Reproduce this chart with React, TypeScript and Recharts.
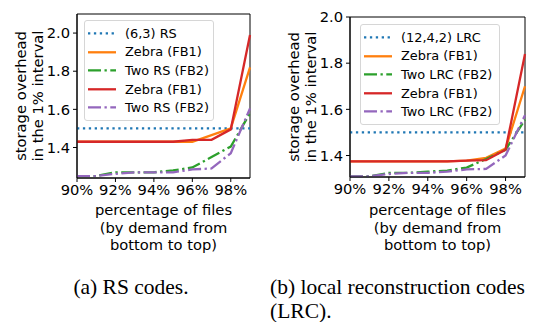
import React from 'react';
import { LineChart, Line, XAxis, YAxis, ReferenceArea } from 'recharts';

// x positions (percentage of files)
const pct = [90, 91, 92, 93, 94, 95, 96, 97, 98, 99];
const xTicks = [90, 92, 94, 96, 98];

// (a) RS codes
const rsBaseline = [1.5, 1.5, 1.5, 1.5, 1.5, 1.5, 1.5, 1.5, 1.5, 1.5];
const rsZebraA = [1.43, 1.43, 1.43, 1.43, 1.43, 1.43, 1.43, 1.465, 1.5, 1.82];
const rsTwoA = [1.25, 1.25, 1.27, 1.27, 1.27, 1.28, 1.295, 1.35, 1.405, 1.58];
const rsZebraB = [1.43, 1.43, 1.43, 1.43, 1.43, 1.43, 1.44, 1.44, 1.495, 1.99];
const rsTwoB = [1.25, 1.25, 1.262, 1.27, 1.27, 1.27, 1.285, 1.29, 1.37, 1.605];
const rsTicks = [1.4, 1.6, 1.8, 2.0];

// (b) LRC
const lrcBaseline = [1.5, 1.5, 1.5, 1.5, 1.5, 1.5, 1.5, 1.5, 1.5, 1.5];
const lrcZebraA = [1.375, 1.375, 1.375, 1.375, 1.375, 1.375, 1.378, 1.39, 1.43, 1.7];
const lrcTwoA = [1.31, 1.31, 1.325, 1.325, 1.33, 1.335, 1.348, 1.385, 1.425, 1.555];
const lrcZebraB = [1.375, 1.375, 1.375, 1.375, 1.375, 1.375, 1.378, 1.38, 1.425, 1.84];
const lrcTwoB = [1.31, 1.31, 1.32, 1.325, 1.325, 1.33, 1.34, 1.342, 1.4, 1.575];
const lrcTicks = [1.4, 1.6, 1.8, 2.0];

const rsLegend = ['(6,3) RS', 'Zebra (FB1)', 'Two RS (FB2)', 'Zebra (FB1)', 'Two RS (FB2)'];
const lrcLegend = ['(12,4,2) LRC', 'Zebra (FB1)', 'Two LRC (FB2)', 'Zebra (FB1)', 'Two LRC (FB2)'];

const FONT = '"DejaVu Sans", sans-serif';
const LW = 2.3;
const DOT = '2.3 3.6';
const DASHDOT = '13 3.5 2.3 3.5';

const styles = [
  { key: 'base', color: '#1f77b4', dash: DOT },
  { key: 'zebraA', color: '#ff7f0e', dash: undefined },
  { key: 'twoA', color: '#2ca02c', dash: DASHDOT },
  { key: 'zebraB', color: '#d62728', dash: undefined },
  { key: 'twoB', color: '#9467bd', dash: DASHDOT },
];

function buildRows(base: number[], za: number[], ta: number[], zb: number[], tb: number[]) {
  return pct.map((p, i) => ({
    pct: p,
    base: base[i],
    zebraA: za[i],
    twoA: ta[i],
    zebraB: zb[i],
    twoB: tb[i],
  }));
}

const rsRows = buildRows(rsBaseline, rsZebraA, rsTwoA, rsZebraB, rsTwoB);
const lrcRows = buildRows(lrcBaseline, lrcZebraA, lrcTwoA, lrcZebraB, lrcTwoB);

interface PanelProps {
  rows: ReturnType<typeof buildRows>;
  domain: [number, number];
  yTicks: number[];
  width: number;
  margin: { top: number; right: number; left: number; bottom: number };
  xHeight: number;
}

function Panel({ rows, domain, yTicks, width, margin, xHeight }: PanelProps) {
  const tick = { fontSize: 14.7, fill: '#000', fontFamily: FONT };
  return (
    <LineChart width={width} height={200} data={rows} margin={margin}>
      <XAxis
        dataKey="pct"
        type="number"
        domain={[90, 99]}
        ticks={xTicks}
        tickFormatter={(v: number) => `${v}%`}
        tick={tick}
        tickSize={4}
        tickMargin={3}
        height={xHeight}
        stroke="#000"
        interval={0}
      />
      <YAxis
        type="number"
        domain={domain}
        ticks={yTicks}
        tickFormatter={(v: number) => v.toFixed(1)}
        tick={tick}
        tickSize={4}
        tickMargin={3}
        width={77}
        stroke="#000"
        interval={0}
      />
      {styles.map((s) => (
        <Line
          key={s.key}
          type="linear"
          dataKey={s.key}
          stroke={s.color}
          strokeWidth={LW}
          strokeDasharray={s.dash}
          dot={false}
          activeDot={false}
          isAnimationActive={false}
        />
      ))}
      {/* full box frame like matplotlib spines */}
      <ReferenceArea x1={90} x2={99} y1={domain[0]} y2={domain[1]} fill="none" stroke="#000" strokeWidth={1} ifOverflow="visible" />
    </LineChart>
  );
}

function LegendBox({ labels, left, top, width, rowH }: { labels: string[]; left: number; top: number; width: number; rowH: number }) {
  return (
    <div
      style={{
        position: 'absolute',
        left,
        top,
        width,
        padding: '3px 0 3px 0',
        border: '1px solid #d6d6d6',
        borderRadius: 3,
        background: 'rgba(255,255,255,0.8)',
        fontFamily: FONT,
        fontSize: 12.9,
        color: '#000',
        boxSizing: 'border-box',
      }}
    >
      {labels.map((lab, i) => (
        <div key={i} style={{ height: rowH, display: 'flex', alignItems: 'center', whiteSpace: 'nowrap' }}>
          <svg width={40} height={rowH} style={{ flex: 'none' }}>
            <line
              x1={3}
              x2={31}
              y1={rowH / 2}
              y2={rowH / 2}
              stroke={styles[i].color}
              strokeWidth={LW}
              strokeDasharray={styles[i].dash}
            />
          </svg>
          <span>{lab}</span>
        </div>
      ))}
    </div>
  );
}

function AxisText({ dx }: { dx: number }) {
  const cx = dx === 0 ? 163.5 : 437.5;
  const yl = dx === 0 ? 96 : 97;
  return (
    <g fontFamily={FONT} fontSize={14.7} fill="#000">
      <text transform={`translate(${26 + dx},${yl}) rotate(-90)`} textAnchor="middle">
        storage overhead
      </text>
      <text transform={`translate(${43.3 + dx},${yl}) rotate(-90)`} textAnchor="middle">
        in the 1% interval
      </text>
      <text x={cx} y={215} textAnchor="middle">percentage of files</text>
      <text x={cx} y={232.5} textAnchor="middle">(by demand from</text>
      <text x={cx} y={249.5} textAnchor="middle">bottom to top)</text>
    </g>
  );
}

export default function App() {
  return (
    <div style={{ position: 'absolute', left: 0, top: 0, width: 547, height: 322, background: '#fff', overflow: 'hidden' }}>
      <div style={{ position: 'absolute', left: 0, top: 0 }}>
        <Panel rows={rsRows} domain={[1.24, 2.1]} yTicks={rsTicks} width={273} margin={{ top: 14, right: 23, left: 0, bottom: 0 }} xHeight={22} />
      </div>
      <div style={{ position: 'absolute', left: 273, top: 0 }}>
        <Panel rows={lrcRows} domain={[1.307, 2.0]} yTicks={lrcTicks} width={274} margin={{ top: 17, right: 22, left: 0, bottom: 0 }} xHeight={23} />
      </div>
      <LegendBox labels={rsLegend} left={84} top={20} width={130} rowH={18.6} />
      <LegendBox labels={lrcLegend} left={360} top={24} width={140} rowH={18.6} />
      <svg width={547} height={322} style={{ position: 'absolute', left: 0, top: 0, pointerEvents: 'none' }}>
        <AxisText dx={0} />
        <AxisText dx={273} />
        <g fontFamily='"Liberation Serif", serif' fontSize={21.5} fill="#000">
          <text x={131} y={294} textAnchor="middle">(a) RS codes.</text>
          <text x={270} y={294}>(b) local reconstruction codes</text>
          <text x={270} y={318}>(LRC).</text>
        </g>
      </svg>
    </div>
  );
}
